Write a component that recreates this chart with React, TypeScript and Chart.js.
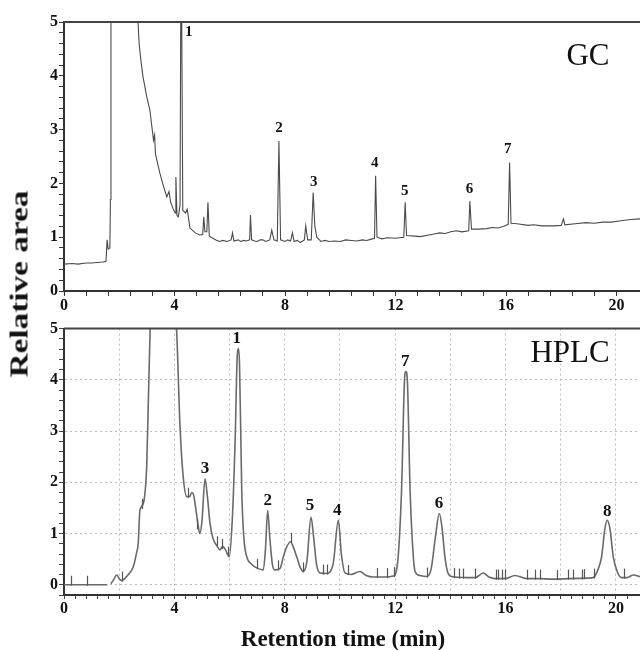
import React, { useEffect, useRef } from "react";
import { Chart, registerables } from "chart.js";
Chart.register(...registerables);

const FONT = "'Liberation Serif', 'Times New Roman', serif";

// ---------- GC trace (retention time, min / relative area) ----------
const gcTime = [
  0.0, 0.3, 0.5, 0.8, 1.0, 1.2, 1.4, 1.52, 1.56, 1.6, 1.66, 1.68, 1.7, 1.74, 2.6, 2.68, 2.72, 2.78, 2.86, 3.0,
  3.11, 3.24, 3.28, 3.31, 3.47, 3.6, 3.72, 3.8, 3.86, 3.94, 4.02, 4.05, 4.09, 4.14, 4.2, 4.24, 4.3, 4.4,
  4.46, 4.56, 4.75, 4.92, 5.02, 5.06, 5.1, 5.17, 5.21, 5.26, 5.39, 5.5, 5.63, 5.75, 5.9, 6.05, 6.1, 6.15,
  6.3, 6.4, 6.5, 6.6, 6.72, 6.75, 6.79, 6.9, 7.0, 7.1, 7.2, 7.3, 7.45, 7.52, 7.6, 7.72, 7.78, 7.84, 8.0,
  8.1, 8.2, 8.27, 8.33, 8.45, 8.55, 8.7, 8.75, 8.82, 8.95, 9.02, 9.08, 9.15, 9.3, 9.45, 9.6, 9.8, 10.0,
  10.2, 10.4, 10.6, 10.8, 10.95, 11.1, 11.24, 11.28, 11.33, 11.5, 11.7, 12.0, 12.3, 12.35, 12.4, 12.7,
  12.9, 13.2, 13.4, 13.6, 13.8, 14.0, 14.2, 14.4, 14.65, 14.69, 14.75, 15.0, 15.3, 15.5, 15.7, 15.9,
  16.08, 16.13, 16.18, 16.4, 16.8, 17.0, 17.3, 17.7, 18.0, 18.08, 18.13, 18.5, 18.9, 19.2, 19.5, 19.8,
  20.1, 20.5, 20.85,
];
const gcSignal = [
  0.5, 0.51, 0.5, 0.52, 0.52, 0.53, 0.54, 0.55, 0.95, 0.78, 0.8, 1.7, 7.0, 7.0, 6.0, 5.0, 4.6, 4.3, 3.98, 3.6,
  3.36, 2.8, 2.9, 2.55, 2.19, 1.95, 1.75, 1.85, 1.65, 1.54, 1.45, 2.12, 1.4, 1.38, 1.6, 7.0, 1.5, 1.45,
  1.52, 1.17, 1.08, 1.04, 1.05, 1.38, 1.1, 1.1, 1.65, 1.02, 0.98, 0.95, 0.92, 0.94, 0.92, 0.95, 1.08, 0.93,
  0.95, 0.92, 0.94, 0.93, 0.95, 1.41, 0.95, 0.93, 0.92, 0.95, 0.95, 0.92, 0.95, 1.13, 0.95, 0.93, 2.79, 0.95,
  0.92, 0.95, 0.93, 1.08, 0.92, 0.94, 0.9, 0.95, 1.21, 0.95, 0.95, 1.83, 1.2, 1.0, 0.92, 0.94, 0.92, 0.93,
  0.92, 0.95, 0.94, 0.93, 0.95, 0.94, 0.96, 0.98, 2.14, 1.0, 0.97, 0.99, 0.98, 1.0, 1.65, 1.03, 1.02,
  1.01, 1.04, 1.06, 1.08, 1.07, 1.1, 1.12, 1.1, 1.12, 1.67, 1.15, 1.15, 1.16, 1.18, 1.17, 1.2,
  1.24, 2.39, 1.26, 1.25, 1.22, 1.23, 1.21, 1.21, 1.22, 1.34, 1.23, 1.25, 1.27, 1.26, 1.28, 1.28,
  1.3, 1.33, 1.34,
];
const gcPeakNames = ["1", "2", "3", "4", "5", "6", "7"];
const gcPeakLabelTime = [4.52, 7.78, 9.04, 11.25, 12.33, 14.68, 16.06];
const gcPeakLabelLevel = [4.81, 3.03, 2.03, 2.38, 1.86, 1.9, 2.64];

// ---------- HPLC trace ----------
const hplcTime = [
  0.0, 1.57, 1.63, 1.7, 1.8, 1.91, 2.0, 2.09, 2.3, 2.51, 2.62, 2.69, 2.75, 2.87, 3.0, 3.12, 3.3, 3.9, 4.08,
  4.2, 4.32, 4.45, 4.55, 4.63, 4.7, 4.75, 4.85, 4.92, 5.0, 5.11, 5.2, 5.29, 5.4, 5.53, 5.65, 5.75, 5.85,
  5.99, 6.1, 6.2, 6.28, 6.32, 6.36, 6.44, 6.52, 6.62, 6.8, 6.98, 7.22, 7.3, 7.38, 7.46, 7.55, 7.65, 7.83,
  7.95, 8.07, 8.21, 8.32, 8.43, 8.55, 8.67, 8.8, 8.95, 9.05, 9.15, 9.28, 9.5, 9.75, 9.94, 10.05, 10.18,
  10.4, 10.72, 10.95, 11.2, 11.6, 11.93, 12.1, 12.23, 12.35, 12.39, 12.44, 12.54, 12.65, 12.72, 12.9,
  13.14, 13.3, 13.45, 13.6, 13.7, 13.8, 13.9, 14.05, 14.59, 14.9, 15.19, 15.4, 15.62, 16.0, 16.34, 16.76,
  17.2, 17.73, 18.3, 19.0, 19.18, 19.35, 19.48, 19.6, 19.68, 19.78, 19.9, 20.05, 20.2, 20.4, 20.63, 20.87,
];
const hplcSignal = [
  0.0, 0.0, null, 0.02, 0.1, 0.19, 0.12, 0.08, 0.18, 0.35, 0.6, 0.81, 1.45, 1.58, 2.36, 4.97, 6.0, 6.0, 4.97,
  3.13, 2.1, 1.72, 1.72, 1.8, 1.75, 1.58, 1.2, 1.0, 1.25, 2.07, 1.7, 1.2, 0.9, 0.77, 0.68, 0.75, 0.68,
  0.55, 1.3, 2.8, 4.5, 4.61, 4.3, 1.84, 0.9, 0.55, 0.4, 0.33, 0.29, 0.7, 1.45, 0.9, 0.4, 0.29, 0.32,
  0.55, 0.74, 0.84, 0.72, 0.55, 0.35, 0.26, 0.45, 1.32, 0.9, 0.4, 0.23, 0.22, 0.4, 1.26, 0.6, 0.23,
  0.2, 0.26, 0.18, 0.15, 0.15, 0.17, 0.5, 1.84, 4.1, 4.16, 4.0, 1.84, 0.6, 0.26, 0.18,
  0.16, 0.3, 0.9, 1.39, 1.1, 0.55, 0.25, 0.16, 0.14, 0.14, 0.23, 0.15, 0.12, 0.12, 0.18, 0.12,
  0.12, 0.11, 0.12, 0.13, 0.14, 0.3, 0.55, 1.1, 1.26, 1.1, 0.55, 0.25, 0.14, 0.14, 0.19, 0.16,
];
// integration markers on the HPLC trace
const hplcMarkTime = [
  0.24, 0.82, 2.09, 2.81, 4.5, 4.81, 5.53, 5.71, 5.95, 6.98, 7.77, 8.22, 8.67, 9.4, 9.54, 10.3, 11.33,
  11.69, 11.96, 13.14, 14.14, 14.32, 14.47, 14.89, 15.64, 15.74, 15.86, 15.98, 16.76, 17.07, 17.25, 17.85,
  18.25, 18.43, 18.76, 18.85, 19.2, 20.29,
];
const hplcMarkLevel = [
  0.0, 0.0, 0.08, 1.5, 1.72, 1.1, 0.77, 0.72, 0.57, 0.33, 0.3, 0.84, 0.26, 0.22, 0.22, 0.21, 0.15,
  0.15, 0.17, 0.16, 0.15, 0.14, 0.14, 0.14, 0.12, 0.12, 0.12, 0.12, 0.12, 0.12, 0.12, 0.11,
  0.12, 0.12, 0.12, 0.13, 0.14, 0.14,
];
const hplcPeakNames = ["3", "1", "2", "5", "4", "7", "6", "8"];
const hplcPeakLabelTime = [5.11, 6.26, 7.38, 8.91, 9.9, 12.36, 13.59, 19.68];
const hplcPeakLabelLevel = [2.26, 4.8, 1.64, 1.55, 1.45, 4.35, 1.59, 1.42];

const near = (v: number, step: number) => Math.abs(v / step - Math.round(v / step)) < 1e-6;

function makePlugin(opts: {
  title: string;
  titleX: number;
  titleY: number;
  names: string[];
  times: number[];
  levels: number[];
  labelFont: string;
  markTimes?: number[];
  markLevels?: number[];
}) {
  return {
    id: "decor" + opts.title,
    afterDatasetsDraw(chart: any) {
      const { ctx, chartArea, scales } = chart;
      const x = scales.x;
      const y = scales.y;
      ctx.save();
      // top frame line
      ctx.strokeStyle = "#444";
      ctx.lineWidth = 2;
      ctx.beginPath();
      ctx.moveTo(chartArea.left, chartArea.top);
      ctx.lineTo(chartArea.right, chartArea.top);
      ctx.stroke();
      // integration marks
      if (opts.markTimes && opts.markLevels) {
        ctx.strokeStyle = "#555";
        ctx.lineWidth = 1.2;
        opts.markTimes.forEach((t, i) => {
          const px = Math.round(x.getPixelForValue(t)) + 0.5;
          const py = y.getPixelForValue(opts.markLevels![i]);
          ctx.beginPath();
          ctx.moveTo(px, py + 1);
          ctx.lineTo(px, py - 9);
          ctx.stroke();
        });
      }
      // peak labels
      ctx.fillStyle = "#111";
      ctx.textAlign = "center";
      ctx.textBaseline = "middle";
      ctx.font = opts.labelFont;
      opts.names.forEach((n, i) => {
        ctx.fillText(n, x.getPixelForValue(opts.times[i]), y.getPixelForValue(opts.levels[i]));
      });
      // panel title
      ctx.font = `31px ${FONT}`;
      ctx.fillText(opts.title, opts.titleX, opts.titleY);
      ctx.restore();
    },
  };
}

const tickFont = { family: FONT, size: 16, weight: "bold" as const };

export default function App() {
  const gcRef = useRef<HTMLCanvasElement>(null);
  const hpRef = useRef<HTMLCanvasElement>(null);

  useEffect(() => {
    const gc = new Chart(gcRef.current!, {
      type: "line",
      data: {
        datasets: [
          {
            data: gcTime.map((t, i) => ({ x: t, y: gcSignal[i] })),
            borderColor: "#4a4a4a",
            borderWidth: 1.1,
            pointRadius: 0,
            tension: 0,
          },
        ],
      },
      options: {
        animation: false,
        responsive: false,
        events: [],
        layout: { padding: { top: 22, left: 0, right: 0, bottom: 0 } },
        plugins: { legend: { display: false }, tooltip: { enabled: false } },
        scales: {
          x: {
            type: "linear",
            min: 0,
            max: 20.85,
            afterFit: (s: any) => {
              s.height = 27;
            },
            border: { color: "#333", width: 2 },
            grid: { drawOnChartArea: false, drawTicks: true, tickLength: 5, tickColor: "#333", tickWidth: 1 },
            ticks: {
              stepSize: 0.8,
              autoSkip: false,
              maxRotation: 0,
              padding: 0,
              color: "#111",
              font: tickFont,
              callback: (v: any) => (near(v, 4) ? String(Math.round(v)) : ""),
            },
          },
          y: {
            min: 0,
            max: 5,
            afterFit: (s: any) => {
              s.width = 64;
            },
            border: { color: "#333", width: 2 },
            grid: { drawOnChartArea: false, drawTicks: true, tickLength: 5, tickColor: "#333", tickWidth: 1 },
            ticks: {
              stepSize: 0.2,
              autoSkip: false,
              padding: 1,
              color: "#111",
              font: tickFont,
              callback: (v: any) => (near(v, 1) ? String(Math.round(v)) : ""),
            },
          },
        },
      },
      plugins: [
        makePlugin({
          title: "GC",
          titleX: 588,
          titleY: 57,
          names: gcPeakNames,
          times: gcPeakLabelTime,
          levels: gcPeakLabelLevel,
          labelFont: `bold 15px ${FONT}`,
        }),
      ],
    } as any);

    const hp = new Chart(hpRef.current!, {
      type: "line",
      data: {
        datasets: [
          {
            data: hplcTime.map((t, i) => ({ x: t, y: hplcSignal[i] })),
            borderColor: "#6a6a6a",
            borderWidth: 1.6,
            pointRadius: 0,
            cubicInterpolationMode: "monotone",
            spanGaps: false,
          },
        ],
      },
      options: {
        animation: false,
        responsive: false,
        events: [],
        layout: { padding: { top: 8, left: 0, right: 0, bottom: 0 } },
        plugins: { legend: { display: false }, tooltip: { enabled: false } },
        scales: {
          x: {
            type: "linear",
            min: 0,
            max: 20.87,
            afterFit: (s: any) => {
              s.height = 55;
            },
            border: { color: "#333", width: 2, dash: [2, 3] },
            grid: {
              color: (c: any) =>
                c.tick && c.tick.value > 0.01 && near(c.tick.value, 2) ? "#bdbdbd" : "rgba(0,0,0,0)",
              lineWidth: 1,
              drawTicks: true,
              tickLength: 4,
              tickColor: "#444",
              tickWidth: 1,
              tickBorderDash: [],
            },
            ticks: {
              stepSize: 0.4,
              autoSkip: false,
              maxRotation: 0,
              padding: 0,
              color: "#111",
              font: tickFont,
              callback: (v: any) => (near(v, 4) ? String(Math.round(v)) : ""),
            },
          },
          y: {
            min: -0.2,
            max: 5,
            afterFit: (s: any) => {
              s.width = 64;
            },
            border: { color: "#333", width: 2, dash: [2, 3] },
            grid: {
              color: (c: any) =>
                c.tick && c.tick.value > -0.01 && c.tick.value < 4.5 && near(c.tick.value, 1)
                  ? "#bdbdbd"
                  : "rgba(0,0,0,0)",
              lineWidth: 1,
              drawTicks: true,
              tickLength: 5,
              tickColor: "#444",
              tickWidth: 1,
              tickBorderDash: [],
            },
            ticks: {
              stepSize: 0.2,
              autoSkip: false,
              padding: 1,
              color: "#111",
              font: tickFont,
              callback: (v: any) => (v > -0.01 && near(v, 1) ? String(Math.round(v)) : ""),
            },
          },
        },
      },
      plugins: [
        makePlugin({
          title: "HPLC",
          titleX: 570,
          titleY: 36,
          names: hplcPeakNames,
          times: hplcPeakLabelTime,
          levels: hplcPeakLabelLevel,
          labelFont: `bold 17px ${FONT}`,
          markTimes: hplcMarkTime,
          markLevels: hplcMarkLevel,
        }),
      ],
    } as any);

    return () => {
      gc.destroy();
      hp.destroy();
    };
  }, []);

  return (
    <div
      style={{
        position: "fixed",
        left: 0,
        top: 0,
        width: 640,
        height: 650,
        background: "#fff",
        overflow: "hidden",
      }}
    >
      <canvas ref={gcRef} width={640} height={318} style={{ position: "absolute", left: 0, top: 0 }} />
      <canvas ref={hpRef} width={640} height={332} style={{ position: "absolute", left: 0, top: 318 }} />
      <div
        style={{
          position: "absolute",
          left: 19,
          top: 284,
          transform: "translate(-50%, -50%) rotate(-90deg) scaleX(1.33)",
          font: `bold 25px ${FONT}`,
          lineHeight: "1",
          whiteSpace: "nowrap",
          color: "#111",
        }}
      >
        Relative area
      </div>
      <div
        style={{
          position: "absolute",
          left: 343,
          top: 638,
          transform: "translate(-50%, -50%)",
          font: `bold 23px ${FONT}`,
          lineHeight: "1",
          whiteSpace: "nowrap",
          color: "#111",
        }}
      >
        Retention time (min)
      </div>
    </div>
  );
}
